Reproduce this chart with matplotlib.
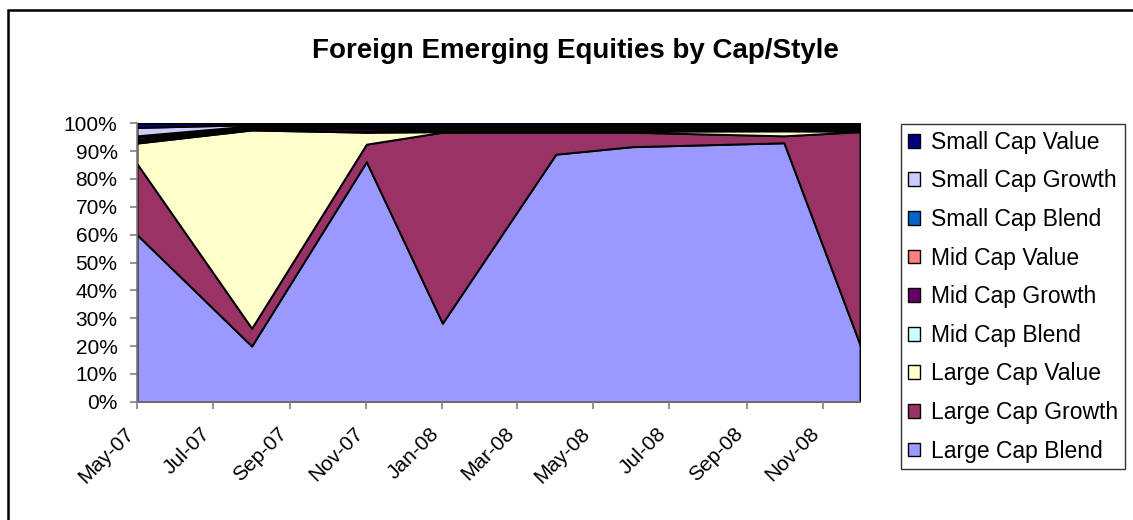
import datetime as dt
import matplotlib
matplotlib.use("Agg")
import matplotlib.pyplot as plt
import matplotlib.dates as mdates
import matplotlib.transforms as mtransforms
from matplotlib.patches import Patch, Rectangle

plt.rcParams['font.family'] = ['Liberation Sans', 'DejaVu Sans']

# data (percent of portfolio)
dates = [dt.datetime(2007, 5, 1), dt.datetime(2007, 8, 1), dt.datetime(2007, 11, 1),
         dt.datetime(2008, 1, 1), dt.datetime(2008, 4, 1), dt.datetime(2008, 6, 1),
         dt.datetime(2008, 10, 1), dt.datetime(2008, 12, 1)]
large_blend = [60.0, 20.0, 86.2, 28.2, 88.9, 91.6, 93.0, 20.5]
large_growth = [25.5, 6.4, 6.3, 68.6, 7.9, 5.2, 2.5, 76.5]
large_value = [7.4, 71.2, 4.3, 0.2, 0.4, 0.4, 1.8, 0.2]
mid_blend = [0.5, 0.3, 0.2, 0.3, 0.3, 0.3, 0.3, 0.3]
mid_growth = [0.8, 0.5, 1.0, 0.4, 0.4, 0.4, 0.4, 0.4]
mid_value = [0.8, 0.3, 0.3, 0.3, 0.3, 0.3, 0.3, 0.3]
small_blend = [0.5, 0.4, 0.5, 0.6, 0.6, 0.8, 0.7, 0.6]
small_growth = [3.0, 0.4, 0.4, 0.5, 0.4, 0.3, 0.3, 0.4]
small_value = [1.5, 0.5, 0.8, 0.9, 0.8, 0.7, 0.7, 0.8]

series = [large_blend, large_growth, large_value, mid_blend, mid_growth,
          mid_value, small_blend, small_growth, small_value]
names = ["Large Cap Blend", "Large Cap Growth", "Large Cap Value",
         "Mid Cap Blend", "Mid Cap Growth", "Mid Cap Value",
         "Small Cap Blend", "Small Cap Growth", "Small Cap Value"]
colors = ["#9999FF", "#993366", "#FFFFCC", "#CCFFFF", "#660066",
          "#FF8080", "#0066CC", "#CCCCFF", "#000080"]

fig = plt.figure(figsize=(11.33, 5.2), dpi=100)
ax = fig.add_axes([137/1133, 1 - 401.7/520, (860-137)/1133, (401.7-123.3)/520])

ax.stackplot(dates, *series, colors=colors, edgecolor='black', linewidth=1.4)

ax.set_xlim(dt.datetime(2007, 5, 1), dt.datetime(2008, 12, 1))
ax.set_ylim(0, 100)
ax.set_yticks(range(0, 101, 10))
ax.set_yticklabels([f"{v}%" for v in range(0, 101, 10)], fontsize=15)
ax.xaxis.set_major_locator(mdates.MonthLocator(bymonth=[1, 3, 5, 7, 9, 11]))
ax.xaxis.set_major_formatter(mdates.DateFormatter('%b-%y'))
ax.tick_params(axis='both', direction='out', length=5, color='#808080', width=1.2)
ax.tick_params(axis='y', pad=9)
ax.tick_params(axis='x', pad=11)
shift = mtransforms.ScaledTranslation(-13/100, 0, fig.dpi_scale_trans)
for lab in ax.get_xticklabels():
    lab.set_rotation(45)
    lab.set_ha('right')
    lab.set_rotation_mode('anchor')
    lab.set_fontsize(15)
    lab.set_transform(lab.get_transform() + shift)
ax.spines['top'].set_visible(False)
ax.spines['right'].set_visible(False)
ax.spines['left'].set_color('#808080')
ax.spines['bottom'].set_color('#808080')
ax.spines['left'].set_linewidth(1.2)
ax.spines['bottom'].set_linewidth(1.2)

fig.text(575/1133, 1 - 51/520, "Foreign Emerging Equities by Cap/Style",
         ha='center', va='center', fontsize=20, fontweight='bold')

# outer chart border
fig.patches.append(Rectangle((8/1133, -0.1), 1.2, 1 - 10/520 + 0.1, transform=fig.transFigure,
                             fill=False, edgecolor='black', linewidth=1.8))

handles = [Patch(facecolor=c, edgecolor='black', linewidth=1.0, label=n)
           for c, n in zip(colors, names)][::-1]
leg = fig.legend(handles=handles, loc='upper left',
                 bbox_to_anchor=(901/1133, 1 - 124/520),
                 fontsize=16.5, frameon=True, fancybox=False,
                 edgecolor='black', handlelength=0.55, handleheight=0.55,
                 handletextpad=0.45, labelspacing=0.68, borderpad=0.3,
                 borderaxespad=0)
leg.get_frame().set_linewidth(1.0)

fig.savefig("out.png", dpi=100)
